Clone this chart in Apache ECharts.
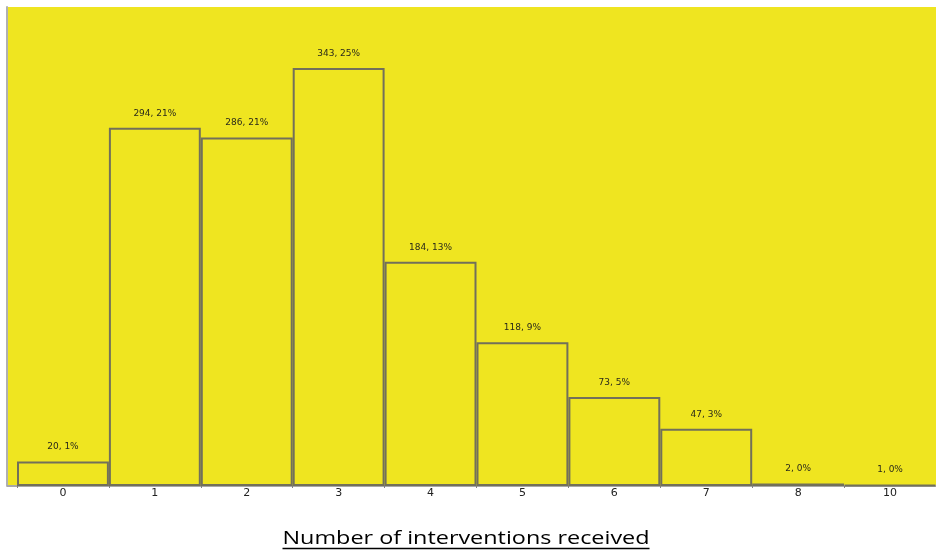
<!DOCTYPE html>
<html>
<head>
<meta charset="utf-8">
<script src="https://cdn.jsdelivr.net/npm/echarts@6/dist/echarts.min.js"></script>
<style>
  html, body { margin: 0; padding: 0; background: #ffffff; }
  #chart { width: 936px; height: 555px; }
</style>
</head>
<body>
<div id="chart"></div>
<script>
// Interventions received per participant
const categories = ['0', '1', '2', '3', '4', '5', '6', '7', '8', '10'];
const counts = [20, 294, 286, 343, 184, 118, 73, 47, 2, 1];
const percents = [1, 21, 21, 25, 13, 9, 5, 3, 0, 0];
const axisTitle = 'Number of interventions received';

const chart = echarts.init(document.getElementById('chart'), null, { renderer: 'canvas' });

const YELLOW = '#efe520';
const PLOT_LEFT = 8, PLOT_TOP = 7, PLOT_BOTTOM = 486, CAT_LEFT = 17;

// Axis title: measured so it can be stretched to its target width and underlined
const titleFont = '18px "Open Sans", "Noto Sans", sans-serif';
const ctx = document.createElement('canvas').getContext('2d');
ctx.font = titleFont;
const rawW = ctx.measureText(axisTitle).width;
const titleW = 367;
const titleScale = titleW / rawW;
const titleCx = 466, titleMidY = 538.5;

chart.setOption({
  backgroundColor: '#ffffff',
  animation: false,
  grid: {
    left: CAT_LEFT, right: 0, top: PLOT_TOP, bottom: 555 - PLOT_BOTTOM,
    show: true, backgroundColor: YELLOW, borderWidth: 0
  },
  graphic: [
    { type: 'rect', z: -1, shape: { x: PLOT_LEFT, y: PLOT_TOP, width: CAT_LEFT - PLOT_LEFT, height: PLOT_BOTTOM - PLOT_TOP }, style: { fill: YELLOW } },
    { type: 'line', z: 10, shape: { x1: PLOT_LEFT - 1, y1: PLOT_BOTTOM, x2: CAT_LEFT, y2: PLOT_BOTTOM }, style: { stroke: '#a8a8a8', lineWidth: 2 } },
    {
      type: 'text', x: titleCx, y: titleMidY, scaleX: titleScale,
      style: { text: axisTitle, font: titleFont, fill: '#000000', x: 0, y: 0, textAlign: 'center', textVerticalAlign: 'middle' }
    },
    { type: 'line', shape: { x1: titleCx - titleW / 2, y1: 548.5, x2: titleCx + titleW / 2, y2: 548.5 }, style: { stroke: '#000000', lineWidth: 1.5 } }
  ],
  xAxis: {
    type: 'category',
    data: categories,
    boundaryGap: true,
    axisLine: { show: true, lineStyle: { color: '#a8a8a8', width: 2 } },
    axisTick: { show: true, length: 2, lineStyle: { color: '#808080' } },
    axisLabel: { color: '#222', fontSize: 11, margin: 2, fontFamily: '"DejaVu Sans", sans-serif' }
  },
  yAxis: {
    type: 'value',
    min: 0, max: 393,
    offset: CAT_LEFT - PLOT_LEFT + 1,
    axisLine: { show: true, lineStyle: { color: '#b0b0b0', width: 2 } },
    axisTick: { show: false },
    axisLabel: { show: false },
    splitLine: { show: false }
  },
  series: [{
    type: 'bar',
    data: counts,
    barCategoryGap: '0%',
    itemStyle: { color: YELLOW, borderColor: '#72705a', borderWidth: 2 },
    label: {
      show: true,
      position: 'top',
      distance: 10,
      fontSize: 9,
      color: '#2a2a1a',
      fontFamily: '"DejaVu Sans", sans-serif',
      formatter: p => counts[p.dataIndex] + ', ' + percents[p.dataIndex] + '%'
    }
  }]
});
</script>
</body>
</html>
